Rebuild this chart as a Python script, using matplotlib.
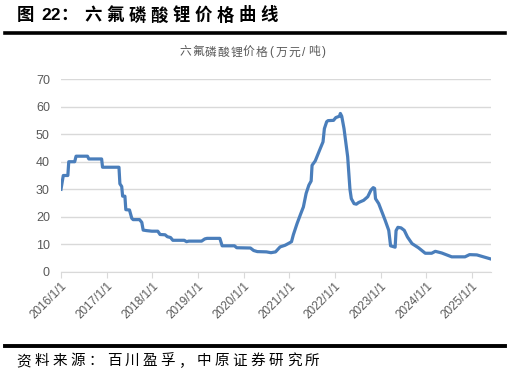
import matplotlib
matplotlib.use("Agg")
import matplotlib.pyplot as plt

plt.rcParams['font.family'] = ['Liberation Sans', 'Noto Sans CJK SC', 'DejaVu Sans']

# price of LiPF6, (decimal year, 万元/吨)
years = [2016.00, 2016.02, 2016.05, 2016.15, 2016.17, 2016.30, 2016.33, 2016.58, 2016.61, 2016.89,
         2016.91, 2017.27, 2017.29, 2017.33, 2017.35, 2017.40, 2017.42, 2017.50, 2017.55, 2017.58,
         2017.72, 2017.77, 2017.80, 2017.88, 2017.99, 2018.12, 2018.17, 2018.28, 2018.33, 2018.40,
         2018.45, 2018.70, 2018.75, 2018.80, 2019.08, 2019.15, 2019.20, 2019.48, 2019.53, 2019.80,
         2019.85, 2020.15, 2020.22, 2020.30, 2020.50, 2020.60, 2020.70, 2020.80, 2020.91, 2021.00,
         2021.05, 2021.09, 2021.17, 2021.24, 2021.31, 2021.37, 2021.43, 2021.48, 2021.50, 2021.57,
         2021.68, 2021.74, 2021.77, 2021.82, 2021.85, 2021.97, 2022.02, 2022.10, 2022.12, 2022.15,
         2022.20, 2022.28, 2022.33, 2022.36, 2022.42, 2022.47, 2022.52, 2022.63, 2022.72, 2022.79,
         2022.84, 2022.87, 2022.89, 2022.96, 2023.03, 2023.10, 2023.18, 2023.22, 2023.32, 2023.34,
         2023.38, 2023.45, 2023.52, 2023.59, 2023.69, 2023.83, 2023.98, 2024.12, 2024.20, 2024.34,
         2024.56, 2024.85, 2024.95, 2025.11, 2025.42]
price = [30, 32, 35, 35, 40, 40, 42, 42, 41, 41,
         38, 38, 32, 31, 27.5, 27.5, 22.6, 22.5, 19.5, 19,
         19, 18, 15.2, 15, 14.8, 14.8, 13.6, 13.5, 12.8, 12.5,
         11.5, 11.5, 11.0, 11.2, 11.2, 12.0, 12.2, 12.2, 9.5, 9.5,
         8.8, 8.7, 7.8, 7.4, 7.3, 7.0, 7.3, 9.1, 9.7, 10.5,
         11.0, 13.5, 17.5, 20.6, 23.6, 28.5, 31.5, 33, 38.7, 40.3,
         44.8, 47.2, 52.0, 54.5, 54.9, 55, 56, 56.5, 57.5, 56.5,
         52, 41.8, 30, 26.6, 24.8, 24.6, 25.2, 26, 27.3, 29.7,
         30.6, 30.3, 26.6, 24.8, 21.8, 18.8, 15.1, 9.5, 9.0, 15.0,
         16.2, 16.0, 15.1, 12.7, 10.3, 8.8, 6.8, 6.8, 7.5, 6.9,
         5.5, 5.5, 6.3, 6.2, 4.7]

tick_years = list(range(2016, 2026))
tick_labels = [f"{y}/1/1" for y in tick_years]

W, H = 511, 378
fig = plt.figure(figsize=(W / 100, H / 100), dpi=100)
ax = fig.add_axes([61 / W, 1 - 272 / H, 430 / W, 193 / H])

ax.plot(years, price, color='#4a7ebb', lw=2.3, solid_joinstyle='round')
ax.set_xlim(2016.0, 2025.42)
ax.set_ylim(0, 70)
ax.set_yticks(range(0, 71, 10))
ax.set_xticks(tick_years)
ax.set_xticklabels(tick_labels, rotation=45, ha='right', rotation_mode='anchor')
ax.grid(axis='y', color='#d9d9d9', lw=1)
ax.set_axisbelow(True)
for s in ['top', 'right', 'left']:
    ax.spines[s].set_visible(False)
ax.spines['bottom'].set_color('#d9d9d9')
ax.tick_params(axis='y', length=0, labelsize=9, labelcolor='#595959', pad=8)
ax.tick_params(axis='x', length=4, color='#d9d9d9', labelsize=8.5, labelcolor='#595959', pad=2)


def spaced(x0, y, text, pitch, **kw):
    # draw text char by char with a fixed pitch (wide chars) / half pitch (ascii)
    x = x0
    for c in text:
        step = pitch if ord(c) > 255 else pitch * 0.55
        fig.text((x + step / 2) / W, 1 - y / H, c, ha='center', va='center', **kw)
        x += step


# header
hdr = dict(fontsize=12.5, fontweight='bold', color='black')
fig.text(25.5 / W, 1 - 15 / H, '图', ha='center', va='center', **hdr)
fig.text(51.5 / W, 1 - 15 / H, '22', ha='center', va='center', **hdr)
fig.text(68.5 / W, 1 - 15 / H, '：', ha='center', va='center', **hdr)
spaced(82, 15, '六氟磷酸锂价格曲线', 22, **hdr)
fig.add_artist(plt.Line2D([5 / W, 505 / W], [1 - 32.5 / H, 1 - 32.5 / H], color='black', lw=2.6))

# chart title
spaced(179, 52.5, '六氟磷酸锂价格(万元/吨)', 12.7, fontsize=8.5, color='#595959')

# footer
fig.add_artist(plt.Line2D([5 / W, 505 / W], [1 - 346 / H, 1 - 346 / H], color='black', lw=2.8))
spaced(15, 361, '资料来源：百川盈孚，中原证券研究所', 18, fontsize=10.5, color='black')

fig.savefig('out.png', dpi=100)
